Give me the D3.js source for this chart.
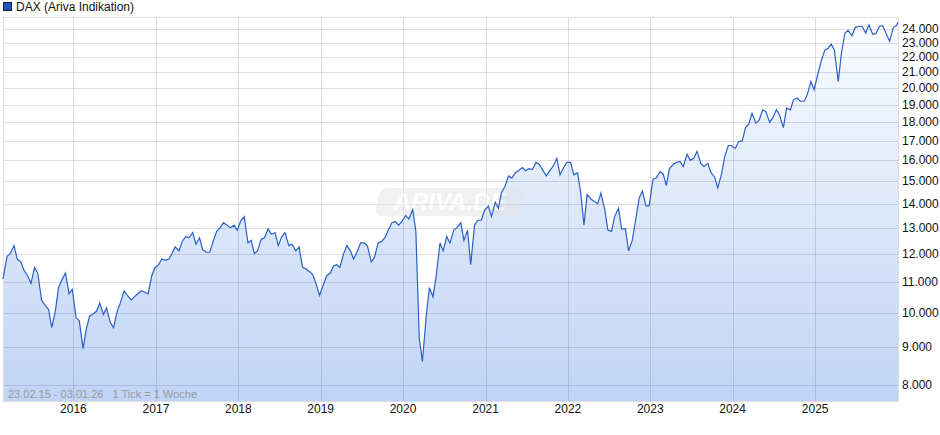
<!DOCTYPE html>
<html>
<head>
<meta charset="utf-8">
<script src="https://cdn.jsdelivr.net/npm/d3@7"></script>
<style>
  body { margin: 0; background: #fff; }
  text { font-family: "Liberation Sans", Arial, sans-serif; }
</style>
</head>
<body>
<svg id="chart" width="940" height="435"></svg>
<script>
const firstPoint = { date: '2015-02-23', value: 11100 };
const lastPoint = { date: '2026-01-03', value: 24500 };
const dax2015 = [11900, 12000, 12300, 11800, 11700, 11400, 11200, 10950, 11500, 11300,
  10400, 10250, 10100, 9550, 10050, 10800, 11100, 11300, 10600, 10750]; // from March
const dax2016 = [9850, 9750, 8950, 9500, 9900, 9950, 10050, 10300, 9950, 10150, 9700, 9550,
  10050, 10300, 10700, 10550, 10400, 10500, 10600, 10700, 10650, 10600, 11200, 11480];
const dax2017 = [11600, 11800, 11750, 11800, 12000, 12250, 12100, 12450, 12650, 12600, 12800, 12350,
  12600, 12150, 12050, 12050, 12500, 12850, 13000, 13200, 13100, 13000, 13100, 12900];
const dax2018 = [13300, 13450, 12400, 12500, 12000, 12100, 12550, 12600, 12950, 12750, 12800, 12300,
  12650, 12800, 12300, 12350, 12100, 12250, 11500, 11450, 11350, 11250, 10900, 10550];
const dax2019 = [10900, 11200, 11300, 11550, 11600, 11500, 12000, 12300, 12100, 11800, 12100, 12400,
  12400, 12300, 11700, 11850, 12400, 12450, 12600, 12900, 13200, 13250, 13100, 13250];
const dax2020 = [13500, 13350, 13750, 12850, 9250, 8600, 9900, 10800, 10500, 11200, 12400, 12100,
  12650, 12400, 12900, 13000, 13200, 12500, 12900, 11600, 13100, 13300, 13300, 13700];
const dax2021 = [13900, 13450, 14050, 13800, 14500, 14750, 15250, 15150, 15400, 15500, 15650, 15500,
  15600, 15550, 15900, 15800, 15500, 15250, 15500, 15700, 16100, 15300, 15650, 15900];
const dax2022 = [15900, 15300, 15400, 14450, 13100, 14400, 14200, 14100, 14000, 14450, 13750, 12900,
  12850, 13450, 13800, 12950, 12950, 12100, 12500, 13250, 14250, 14550, 13900, 13900];
const dax2023 = [15100, 15150, 15450, 15350, 14800, 15600, 15800, 15900, 15950, 15700, 16300, 16000,
  16100, 16450, 15850, 15700, 15850, 15400, 15200, 14700, 15350, 16200, 16750, 16750];
const dax2024 = [16600, 16950, 17000, 17700, 17900, 18500, 17950, 18100, 18700, 18600, 18000, 18250,
  18700, 18400, 17700, 18800, 18700, 19300, 19400, 19200, 19200, 19600, 20400, 19900];
const dax2025 = [20900, 21700, 22500, 22600, 22900, 22500, 20400, 22250, 23700, 23900, 23500, 24100,
  24200, 24200, 23700, 24300, 23600, 23650, 24200, 24250, 23600, 23100, 24100, 24250];
const yearLabels = ['2016', '2017', '2018', '2019', '2020', '2021', '2022', '2023', '2024', '2025'];
const yTicks = [8000, 9000, 10000, 11000, 12000, 13000, 14000, 15000, 16000, 17000, 18000,
  19000, 20000, 21000, 22000, 23000, 24000];

const years = [[2015, dax2015, 2], [2016, dax2016, 0], [2017, dax2017, 0], [2018, dax2018, 0],
  [2019, dax2019, 0], [2020, dax2020, 0], [2021, dax2021, 0], [2022, dax2022, 0],
  [2023, dax2023, 0], [2024, dax2024, 0], [2025, dax2025, 0]];

const data = [{ date: new Date(firstPoint.date), value: firstPoint.value }];
years.forEach(([yr, vals, m0]) => {
  vals.forEach((v, i) => {
    data.push({ date: new Date(yr, m0 + Math.floor(i / 2), i % 2 ? 27 : 13), value: v });
  });
});
data.push({ date: new Date(lastPoint.date), value: lastPoint.value });

const pLeft = 3, pRight = 898, pTop = 17, pBottom = 401;
const svg = d3.select('#chart');

const x = d3.scaleTime()
  .domain([data[0].date, data[data.length - 1].date])
  .range([pLeft, pRight]);
const y = d3.scaleLog().domain([7615, 24900]).range([pBottom, pTop]);

const grad = svg.append('defs').append('linearGradient')
  .attr('id', 'fill').attr('gradientUnits', 'userSpaceOnUse')
  .attr('x1', 0).attr('x2', 0).attr('y1', pTop).attr('y2', pBottom);
grad.append('stop').attr('offset', 0).attr('stop-color', '#fbfcff');
grad.append('stop').attr('offset', 1).attr('stop-color', '#bfd4f6');

svg.append('path')
  .datum(data)
  .attr('fill', 'url(#fill)')
  .attr('d', d3.area().x(d => x(d.date)).y0(pBottom).y1(d => y(d.value)));

// grid
const grid = svg.append('g').attr('stroke', 'rgba(90,90,110,0.2)').attr('stroke-width', 1);
yTicks.forEach(t => {
  grid.append('line').attr('x1', pLeft).attr('x2', pRight)
    .attr('y1', Math.round(y(t)) + 0.5).attr('y2', Math.round(y(t)) + 0.5);
});
yearLabels.forEach(l => {
  const xx = Math.round(x(new Date(+l, 0, 1))) + 0.5;
  grid.append('line').attr('x1', xx).attr('x2', xx).attr('y1', pTop).attr('y2', pBottom);
});
svg.append('rect').attr('x', pLeft + 0.5).attr('y', pTop + 0.5)
  .attr('width', pRight - pLeft).attr('height', pBottom - pTop)
  .attr('fill', 'none').attr('stroke', '#ddd');

// watermark
const wm = svg.append('g').attr('opacity', 0.5);
wm.append('rect').attr('x', 378).attr('y', 188).attr('width', 145).attr('height', 28)
  .attr('rx', 8).attr('fill', '#e4e4e4').attr('transform', 'translate(42,0) skewX(-12)');
wm.append('text').attr('x', 450).attr('y', 210).attr('text-anchor', 'middle')
  .attr('font-size', 24).attr('font-weight', 'bold').attr('font-style', 'italic')
  .attr('fill', '#fff').text('ARIVA.DE');

svg.append('path')
  .datum(data)
  .attr('fill', 'none')
  .attr('stroke', '#2a5fc9')
  .attr('stroke-width', 1.2)
  .attr('d', d3.line().x(d => x(d.date)).y(d => y(d.value)));

// axes labels
const fmt = d3.format(',');
svg.append('g').selectAll('text').data(yTicks).join('text')
  .attr('x', 902).attr('y', d => y(d) + 4)
  .attr('font-size', 12).attr('fill', '#111')
  .text(d => fmt(d).replace(/,/g, '.'));
svg.append('g').selectAll('text').data(yearLabels).join('text')
  .attr('x', d => x(new Date(+d, 0, 1))).attr('y', 413)
  .attr('text-anchor', 'middle').attr('font-size', 12).attr('fill', '#111')
  .text(d => d);

svg.append('text').attr('x', 8).attr('y', 398).attr('font-size', 11).attr('fill', '#9a9a9a')
  .attr('xml:space', 'preserve').text('23.02.15 - 03.01.26   1 Tick = 1 Woche');

// legend
svg.append('rect').attr('x', 3.5).attr('y', 2.5).attr('width', 8).attr('height', 8)
  .attr('fill', '#2255bb').attr('stroke', '#123');
svg.append('text').attr('x', 16).attr('y', 11).attr('font-size', 12).attr('fill', '#111')
  .text('DAX (Ariva Indikation)');
</script>
</body>
</html>
